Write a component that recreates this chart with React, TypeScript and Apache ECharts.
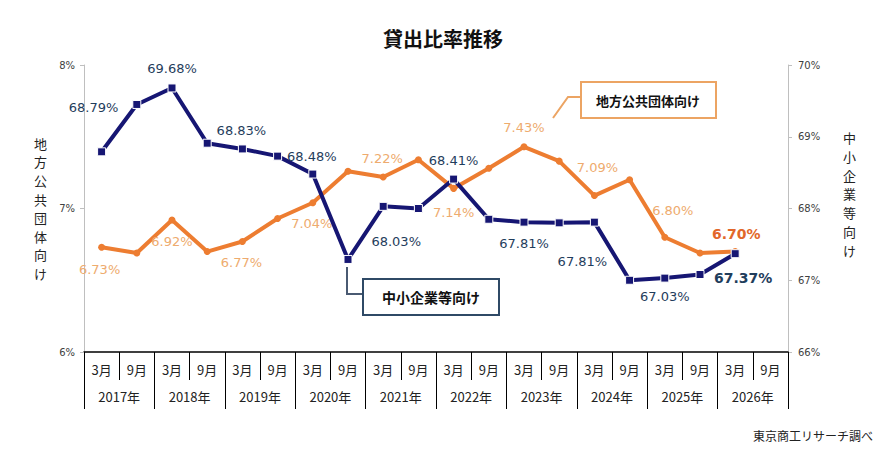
import React, { useEffect, useRef } from "react";
import * as echarts from "echarts";

const monthLabels = [
  "3月", "9月", "3月", "9月", "3月", "9月", "3月", "9月", "3月", "9月",
  "3月", "9月", "3月", "9月", "3月", "9月", "3月", "9月", "3月", "9月",
];
const yearLabels = [
  "2017年", "2018年", "2019年", "2020年", "2021年",
  "2022年", "2023年", "2024年", "2025年", "2026年",
];
// 地方公共団体向け (left axis, %)
const localGovRatio: (number | null)[] = [
  6.73, 6.69, 6.92, 6.7, 6.77, 6.93, 7.04, 7.26, 7.22, 7.34,
  7.14, 7.28, 7.43, 7.33, 7.09, 7.2, 6.8, 6.69, 6.7, null,
];
// 中小企業等向け (right axis, %)
const smeRatio: (number | null)[] = [
  68.79, 69.45, 69.68, 68.91, 68.83, 68.73, 68.48, 67.29, 68.03, 68.0,
  68.41, 67.85, 67.81, 67.8, 67.81, 67.0, 67.03, 67.08, 67.37, null,
];
const leftTicks = { min: 6, max: 8, interval: 1 };
const rightTicks = { min: 66, max: 70, interval: 1 };

// label layout (offsets from each labelled point)
const localGovLabelOffsets: (number[] | null)[] = [
  [-2, 22], null, [0, 22], null, [-1, 21], null, [-1, 21], null, [-1, -18], null,
  [0, 24], null, [0, -19], null, [3, -28], null, [8, -27], null, [1, -18], null,
];
const smeLabelOffsets: (number[] | null)[] = [
  [-8, -44], null, [0, -19], null, [-1, -18], null, [-1, -18], null, [13, 35], null,
  [0, -19], null, [0, 21], null, [-12, 39], null, [0, 18], null, [8, 24], null,
];

const NUM_FONT = "'DejaVu Sans', 'Noto Sans CJK JP', sans-serif";
const JP_FONT = "'Noto Sans CJK JP', 'DejaVu Sans', sans-serif";

function buildItems(
  values: (number | null)[],
  offsets: (number[] | null)[],
  color: string,
  lastColor: string
) {
  const lastIdx = values.reduce((acc: number, v, i) => (v != null && offsets[i] ? i : acc), -1);
  return values.map((v, i) => {
    if (v == null) return null;
    const off = offsets[i];
    if (!off) return { value: v, label: { show: false } };
    const isLast = i === lastIdx;
    return {
      value: v,
      label: {
        show: true,
        position: "inside",
        offset: off,
        formatter: (p: any) => Number(p.value).toFixed(2) + "%",
        color: isLast ? lastColor : color,
        fontSize: isLast ? 14 : 13,
        fontWeight: isLast ? "bold" : "normal",
        fontFamily: NUM_FONT,
      },
    };
  });
}

export default function App() {
  const ref = useRef<HTMLDivElement>(null);
  useEffect(() => {
    if (!ref.current) return;
    const chart = echarts.init(ref.current, undefined, { renderer: "svg" });
    const axisGray = "#bfbfbf";
    const option: any = {
      animation: false,
      backgroundColor: "#ffffff",
      textStyle: { fontFamily: NUM_FONT },
      title: {
        text: "貸出比率推移",
        left: 378,
        top: 23,
        textStyle: { fontSize: 20, fontWeight: "bold", color: "#111", fontFamily: JP_FONT },
      },
      grid: { left: 84, right: 108, top: 65, bottom: 110, containLabel: false },
      xAxis: [
        {
          type: "category",
          data: monthLabels,
          position: "bottom",
          boundaryGap: true,
          axisLine: { show: true, lineStyle: { color: "#000", width: 1.5 } },
          axisTick: { show: true, interval: 0, length: 28, lineStyle: { color: "#000", width: 1 } },
          axisLabel: { interval: 0, margin: 11, fontSize: 13, color: "#222", fontFamily: JP_FONT },
          splitLine: { show: false },
        },
        {
          type: "category",
          data: yearLabels,
          position: "bottom",
          boundaryGap: true,
          axisLine: { show: false },
          axisTick: { show: true, interval: 0, length: 57, lineStyle: { color: "#000", width: 1 } },
          axisLabel: { interval: 0, margin: 38, fontSize: 13, color: "#222", fontFamily: JP_FONT },
          splitLine: { show: false },
        },
      ],
      yAxis: [
        {
          type: "value",
          position: "left",
          min: leftTicks.min,
          max: leftTicks.max,
          interval: leftTicks.interval,
          axisLine: { show: true, lineStyle: { color: axisGray } },
          axisTick: { show: true, length: 4, lineStyle: { color: axisGray } },
          axisLabel: { formatter: "{value}%", fontSize: 10, color: "#404040", margin: 9 },
          splitLine: { show: false },
        },
        {
          type: "value",
          position: "right",
          min: rightTicks.min,
          max: rightTicks.max,
          interval: rightTicks.interval,
          axisLine: { show: true, lineStyle: { color: axisGray } },
          axisTick: { show: true, length: 4, lineStyle: { color: axisGray } },
          axisLabel: { formatter: "{value}%", fontSize: 10, color: "#404040", margin: 10 },
          splitLine: { show: false },
        },
      ],
      series: [
        {
          name: "地方公共団体向け",
          type: "line",
          xAxisIndex: 0,
          yAxisIndex: 0,
          z: 2,
          data: buildItems(localGovRatio, localGovLabelOffsets, "#eeab6e", "#e2672a"),
          lineStyle: { color: "#ED7D31", width: 4 },
          itemStyle: { color: "#ED7D31" },
          symbol: "circle",
          symbolSize: 7,
          showSymbol: true,
        },
        {
          name: "中小企業等向け",
          type: "line",
          xAxisIndex: 0,
          yAxisIndex: 1,
          z: 3,
          data: buildItems(smeRatio, smeLabelOffsets, "#1f3d5c", "#1f3d5c"),
          lineStyle: { color: "#161673", width: 4 },
          itemStyle: { color: "#161673", borderColor: "#ffffff", borderWidth: 1 },
          symbol: "rect",
          symbolSize: 8,
          showSymbol: true,
        },
      ],
      graphic: [
        {
          type: "text",
          left: 34,
          top: 134,
          style: {
            text: "地\n方\n公\n共\n団\n体\n向\nけ",
            fontSize: 13,
            lineHeight: 18.6,
            fill: "#222",
            fontFamily: JP_FONT,
            align: "center",
          },
        },
        {
          type: "text",
          left: 843,
          top: 128,
          style: {
            text: "中\n小\n企\n業\n等\n向\nけ",
            fontSize: 13,
            lineHeight: 18.8,
            fill: "#222",
            fontFamily: JP_FONT,
            align: "center",
          },
        },
        {
          type: "polyline",
          shape: { points: [[581, 97], [568, 97], [553, 118]] },
          style: { stroke: "#eca463", lineWidth: 2, fill: null },
          z: 10,
        },
        {
          type: "rect",
          shape: { x: 581, y: 82, width: 135, height: 36 },
          style: { fill: "#ffffff", stroke: "#eca463", lineWidth: 2 },
          z: 10,
        },
        {
          type: "text",
          x: 648,
          y: 100,
          z: 11,
          style: {
            text: "地方公共団体向け",
            fontSize: 13,
            fontWeight: "bold",
            fill: "#111",
            fontFamily: JP_FONT,
            align: "center",
            verticalAlign: "middle",
          },
        },
        {
          type: "polyline",
          shape: { points: [[347, 267], [347, 294], [363, 294]] },
          style: { stroke: "#4a5a72", lineWidth: 2, fill: null },
          z: 10,
        },
        {
          type: "rect",
          shape: { x: 363, y: 279, width: 136, height: 36 },
          style: { fill: "#ffffff", stroke: "#2f4a66", lineWidth: 2 },
          z: 10,
        },
        {
          type: "text",
          x: 431,
          y: 297,
          z: 11,
          style: {
            text: "中小企業等向け",
            fontSize: 14,
            fontWeight: "bold",
            fill: "#111",
            fontFamily: JP_FONT,
            align: "center",
            verticalAlign: "middle",
          },
        },
        {
          type: "text",
          left: 753,
          top: 429,
          style: {
            text: "東京商工リサーチ調べ",
            fontSize: 12,
            fill: "#222",
            fontFamily: JP_FONT,
          },
        },
      ],
    };
    chart.setOption(option);
    return () => chart.dispose();
  }, []);
  return (
    <div
      ref={ref}
      style={{ position: "absolute", left: 0, top: 0, width: 896, height: 462, background: "#fff" }}
    />
  );
}
